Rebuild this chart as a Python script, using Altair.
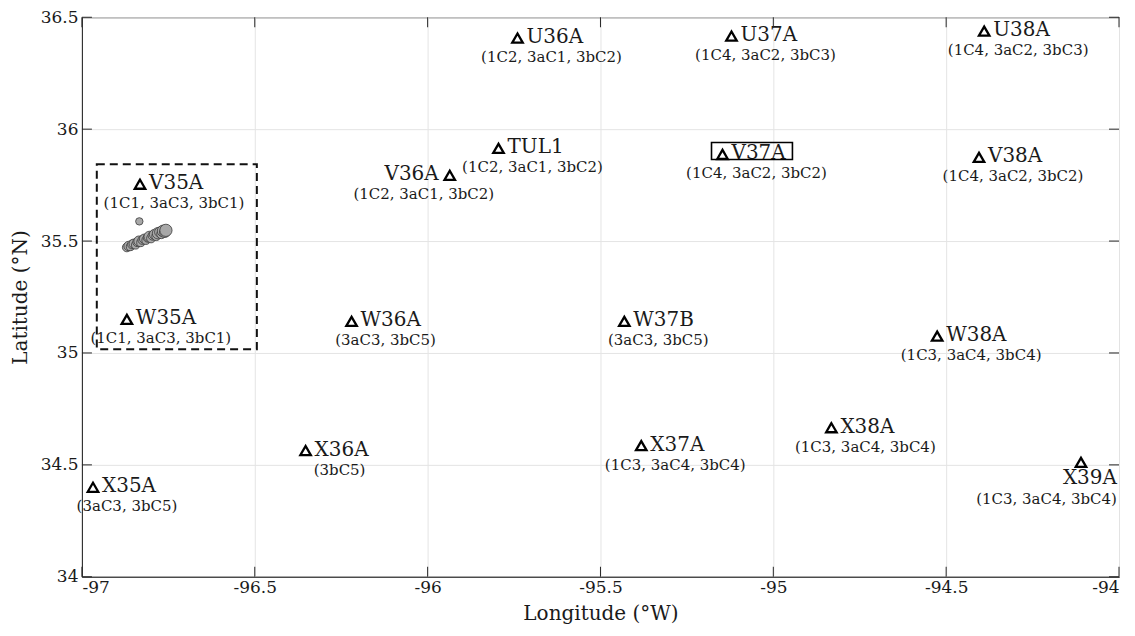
import altair as alt
import pandas as pd

# ---------------- data ----------------
stations = ["V35A", "W35A", "U36A", "U37A", "U38A", "TUL1", "V36A", "V37A", "V38A",
            "W36A", "W37B", "W38A", "X35A", "X36A", "X37A", "X38A", "X39A"]
st_lon = [-96.832, -96.870, -95.740, -95.121, -94.390, -95.795, -95.936, -95.147, -94.405,
          -96.220, -95.431, -94.526, -96.968, -96.353, -95.382, -94.832, -94.110]
st_lat = [35.754, 35.150, 36.407, 36.416, 36.438, 35.914, 35.794, 35.887, 35.874,
          35.141, 35.141, 35.075, 34.400, 34.564, 34.586, 34.666, 34.511]
st_codes = ["(1C1, 3aC3, 3bC1)", "(1C1, 3aC3, 3bC1)", "(1C2, 3aC1, 3bC2)", "(1C4, 3aC2, 3bC3)",
            "(1C4, 3aC2, 3bC3)", "(1C2, 3aC1, 3bC2)", "(1C2, 3aC1, 3bC2)", "(1C4, 3aC2, 3bC2)",
            "(1C4, 3aC2, 3bC2)", "(3aC3, 3bC5)", "(3aC3, 3bC5)", "(1C3, 3aC4, 3bC4)",
            "(3aC3, 3bC5)", "(3bC5)", "(1C3, 3aC4, 3bC4)", "(1C3, 3aC4, 3bC4)", "(1C3, 3aC4, 3bC4)"]
st_place = ["right", "right", "right", "right", "right", "right", "left", "right", "right",
            "right", "right", "right", "right", "right", "right", "right", "below"]
st_boxed = [False, False, False, False, False, False, False, True, False,
            False, False, False, False, False, False, False, False]

ev_lon = [-96.870, -96.865, -96.860, -96.855, -96.850, -96.845, -96.840, -96.835, -96.830,
          -96.825, -96.820, -96.815, -96.810, -96.805, -96.800, -96.795, -96.790, -96.785,
          -96.780, -96.775, -96.770, -96.765, -96.760, -96.757, -96.834]
ev_lat = [35.472, 35.478, 35.475, 35.485, 35.488, 35.482, 35.495, 35.500, 35.493,
          35.505, 35.510, 35.503, 35.515, 35.520, 35.512, 35.525, 35.530, 35.522,
          35.535, 35.540, 35.532, 35.545, 35.540, 35.548, 35.588]
ev_size = [80, 90, 65, 80, 90, 65, 80, 105, 65, 80, 90, 65, 80, 115, 80, 90, 105, 80,
           130, 105, 90, 140, 115, 150, 55]

region_lon = [-96.957, -96.494]
region_lat = [35.017, 35.843]

x_ticks = [-97, -96.5, -96, -95.5, -95, -94.5, -94]
y_ticks = [34, 34.5, 35, 35.5, 36, 36.5]

# ---------------- frames ----------------
st = pd.DataFrame({"station": stations, "lon": st_lon, "lat": st_lat, "codes": st_codes,
                   "place": st_place, "boxed": st_boxed})
ev = pd.DataFrame({"lon": ev_lon, "lat": ev_lat, "size": ev_size})
reg = pd.DataFrame({"lon": [region_lon[0]], "lon2": [region_lon[1]],
                    "lat": [region_lat[0]], "lat2": [region_lat[1]]})
xt = pd.DataFrame({"v": x_ticks})
yt = pd.DataFrame({"v": y_ticks})

W, H = 1038, 560
FONT = "DejaVu Serif"
TXT = "#1a1a1a"

xscale = alt.Scale(domain=[-97, -94], nice=False, zero=False)
yscale = alt.Scale(domain=[34, 36.5], nice=False, zero=False)

X = alt.X("lon:Q", scale=xscale,
          axis=alt.Axis(values=x_ticks, title="Longitude (°W)", labelFlush=True,
                        labelExpr="'-' + format(-datum.value, '~g')"))
Y = alt.Y("lat:Q", scale=yscale,
          axis=alt.Axis(values=y_ticks, title="Latitude (°N)", format="~g"))

base_st = alt.Chart(st)

region = alt.Chart(reg).mark_rect(fill=None, stroke="#111", strokeWidth=2,
                                  strokeDash=[8, 5]).encode(
    x=alt.X("lon:Q", scale=xscale), x2="lon2:Q",
    y=alt.Y("lat:Q", scale=yscale), y2="lat2:Q")

events = alt.Chart(ev).mark_circle(fill="#a8a8a8", stroke="#3a3a3a", strokeWidth=0.8,
                                   opacity=1).encode(
    x=X, y=Y, size=alt.Size("size:Q", scale=None, legend=None))

tri = base_st.mark_point(shape="triangle-up", filled=False, stroke="#000",
                         strokeWidth=2.3, size=110, opacity=1).encode(x=X, y=Y)

name_right = base_st.transform_filter("datum.place == 'right'").mark_text(
    align="left", baseline="middle", dx=9, dy=-1, font=FONT, fontSize=20, color=TXT
).encode(x=X, y=Y, text="station:N")
sub_right = base_st.transform_filter("datum.place == 'right'").mark_text(
    align="center", baseline="middle", dx=34, dy=19, font=FONT, fontSize=15, color=TXT
).encode(x=X, y=Y, text="codes:N")

name_left = base_st.transform_filter("datum.place == 'left'").mark_text(
    align="right", baseline="middle", dx=-11, dy=-1, font=FONT, fontSize=20, color=TXT
).encode(x=X, y=Y, text="station:N")
sub_left = base_st.transform_filter("datum.place == 'left'").mark_text(
    align="center", baseline="middle", dx=-26, dy=19, font=FONT, fontSize=15, color=TXT
).encode(x=X, y=Y, text="codes:N")

name_below = base_st.transform_filter("datum.place == 'below'").mark_text(
    align="right", baseline="middle", dx=36, dy=16, font=FONT, fontSize=20, color=TXT
).encode(x=X, y=Y, text="station:N")
sub_below = base_st.transform_filter("datum.place == 'below'").mark_text(
    align="right", baseline="middle", dx=36, dy=37, font=FONT, fontSize=15, color=TXT
).encode(x=X, y=Y, text="codes:N")

box = base_st.transform_filter("datum.boxed").mark_rect(
    fill=None, stroke="#000", strokeWidth=1.6,
    xOffset=-11, x2Offset=70, yOffset=-12, y2Offset=5
).encode(x=X, x2="lon:Q", y=Y, y2="lat:Q")

tick_bottom = alt.Chart(xt).mark_rule(color="#262626", strokeWidth=1).encode(
    x=alt.X("v:Q", scale=xscale), y=alt.value(H), y2=alt.value(H - 10))
tick_top = alt.Chart(xt).mark_rule(color="#262626", strokeWidth=1).encode(
    x=alt.X("v:Q", scale=xscale), y=alt.value(0), y2=alt.value(10))
tick_left = alt.Chart(yt).mark_rule(color="#262626", strokeWidth=1).encode(
    y=alt.Y("v:Q", scale=yscale), x=alt.value(0), x2=alt.value(10))
tick_right = alt.Chart(yt).mark_rule(color="#262626", strokeWidth=1).encode(
    y=alt.Y("v:Q", scale=yscale), x=alt.value(W), x2=alt.value(W - 10))

chart = alt.layer(
    region, events, tri, name_right, sub_right, name_left, sub_left,
    name_below, sub_below, box, tick_bottom, tick_top, tick_left, tick_right
).properties(
    width=W, height=H,
    autosize=alt.AutoSizeParams(type="none"),
    padding={"left": 74, "top": 9, "right": 8, "bottom": 50},
    background="white"
).configure_view(
    stroke="#262626", strokeWidth=1
).configure_axis(
    grid=True, gridColor="#e4e4e4", gridWidth=1,
    domain=True, domainColor="#262626", tickSize=0,
    labelFont=FONT, labelFontSize=17, labelColor=TXT,
    titleFont=FONT, titleFontSize=20, titleColor=TXT, titleFontWeight="normal"
).configure_axisX(
    labelPadding=3, titlePadding=8
).configure_axisY(
    labelPadding=4, titlePadding=10
)

chart.save("out.html", embed_options={"renderer": "svg", "actions": False})
